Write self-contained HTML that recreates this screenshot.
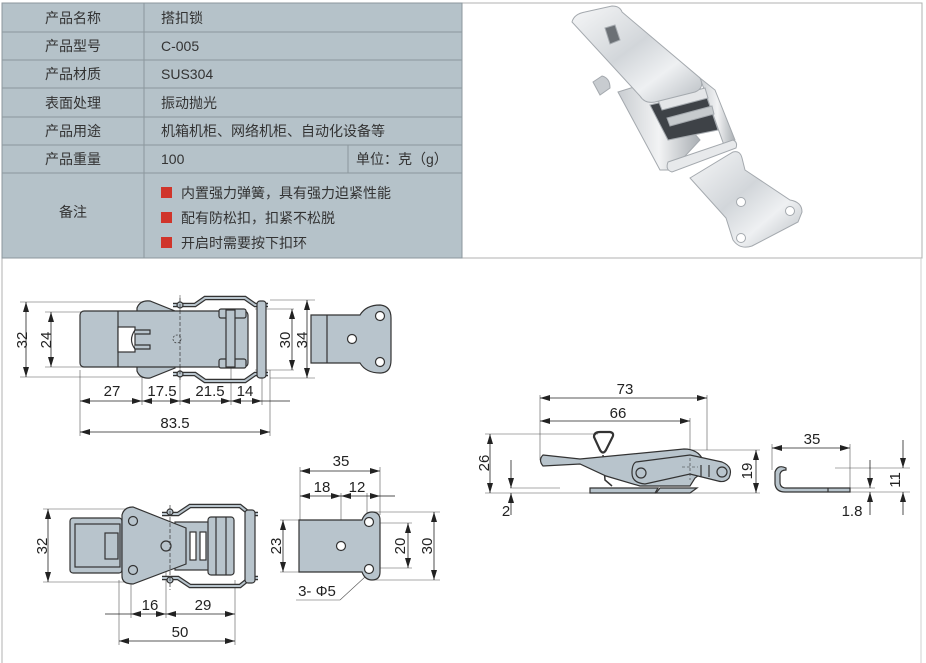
<!DOCTYPE html>
<html><head><meta charset="utf-8"><style>
html,body{margin:0;padding:0;background:#fff;width:926px;height:663px;overflow:hidden}
svg{display:block}
.t{font-family:"Liberation Sans","Noto Sans CJK SC",sans-serif;font-size:14px;fill:#333}
.d{font-family:"Liberation Sans",sans-serif;font-size:15px;fill:#222}
</style></head><body>
<svg width="926" height="663" viewBox="0 0 926 663" xmlns="http://www.w3.org/2000/svg">
<defs>
<marker id="a" viewBox="0 0 10 6" refX="10" refY="3" markerWidth="10" markerHeight="6" orient="auto-start-reverse" markerUnits="userSpaceOnUse"><path d="M0,0 L10,3 L0,6z" fill="#222"/></marker>
<linearGradient id="m" x1="0" y1="0" x2="1" y2="1"><stop offset="0" stop-color="#f6f7f8"/><stop offset=".45" stop-color="#d2d6da"/><stop offset=".7" stop-color="#eef0f2"/><stop offset="1" stop-color="#b8bdc2"/></linearGradient>
<linearGradient id="m2" x1="0" y1="0" x2="1" y2="0"><stop offset="0" stop-color="#c9cdd1"/><stop offset=".5" stop-color="#f2f3f4"/><stop offset="1" stop-color="#a9aeb3"/></linearGradient>
</defs>
<!-- frame -->
<rect x="2" y="3" width="920" height="255" fill="none" stroke="#b0b0b0"/>
<line x1="2" y1="258" x2="2" y2="663" stroke="#b0b0b0"/>
<line x1="921" y1="258" x2="921" y2="663" stroke="#d0d0d0"/>
<!-- table -->
<rect x="2" y="3" width="460" height="255" fill="#b5c2c9" stroke="#8c979d"/>
<g stroke="#8c979d" stroke-width="1">
<line x1="2" y1="32" x2="462" y2="32"/><line x1="2" y1="60" x2="462" y2="60"/>
<line x1="2" y1="88" x2="462" y2="88"/><line x1="2" y1="117" x2="462" y2="117"/>
<line x1="2" y1="145" x2="462" y2="145"/><line x1="2" y1="173" x2="462" y2="173"/>
<line x1="144" y1="3" x2="144" y2="258"/><line x1="348" y1="145" x2="348" y2="173"/>
</g>
<g class="t" text-anchor="middle">
<text x="73" y="23">产品名称</text><text x="73" y="51">产品型号</text><text x="73" y="79">产品材质</text>
<text x="73" y="108">表面处理</text><text x="73" y="136">产品用途</text><text x="73" y="164">产品重量</text>
<text x="73" y="217">备注</text>
</g>
<g class="t">
<text x="161" y="23">搭扣锁</text><text x="161" y="51">C-005</text><text x="161" y="79">SUS304</text>
<text x="161" y="108">振动抛光</text><text x="161" y="136">机箱机柜、网络机柜、自动化设备等</text>
<text x="161" y="164">100</text><text x="356" y="164">单位：克（g）</text>
<text x="181" y="198">内置强力弹簧，具有强力迫紧性能</text>
<text x="181" y="223">配有防松扣，扣紧不松脱</text>
<text x="181" y="248">开启时需要按下扣环</text>
</g>
<rect x="161" y="187" width="11" height="11" fill="#d0352b"/>
<rect x="161" y="212" width="11" height="11" fill="#d0352b"/>
<rect x="161" y="237" width="11" height="11" fill="#d0352b"/>
<!-- photo -->
<g stroke="#a4a9ae" stroke-width="1">
<path d="M593,82 L602,76 Q610,78 610,88 L600,95 Z" fill="#c8ccd0"/>
<path d="M618,92 L650,82 L700,140 L672,170 L660,170 Z" fill="url(#m2)"/>
<path d="M700,78 L715,90 L735,140 L725,148 Z" fill="url(#m2)"/>
<path d="M650,105 L705,92 L718,130 L668,140 Z" fill="#3e4247"/>
<path d="M658,100 L705,88 L708,98 L662,110 Z" fill="#e4e6e8"/>
<path d="M667,118 L712,106 L714,114 L670,126 Z" fill="#c6cacd"/>
<path d="M572,22 Q574,14 585,12 L612,6 Q620,6 622,12 L700,78 Q705,88 695,92 L655,102 Q645,104 640,96 Z" fill="url(#m)"/>
<path d="M605,28 L615,25 L620,40 L610,44 Z" fill="#6b7075"/>
<path d="M668,162 L733,140 Q738,142 736,148 L672,172 Q665,170 668,162 Z" fill="#e7e9eb"/>
<path d="M690,178 L733,152 Q740,150 742,158 L745,170 L790,200 Q802,202 802,212 L798,222 L752,246 Q740,250 733,240 L726,218 Z" fill="url(#m)"/>
<circle cx="741" cy="202" r="4.5" fill="#fff"/><circle cx="790" cy="211" r="4.5" fill="#fff"/><circle cx="741" cy="238" r="4.5" fill="#fff"/>
</g>
<!-- ============ top-left plan view ============ -->
<g stroke="#555" stroke-width="0.6" fill="none">
<line x1="20" y1="302" x2="150" y2="302"/><line x1="20" y1="377" x2="150" y2="377"/>
<line x1="45" y1="312" x2="85" y2="312"/><line x1="45" y1="367" x2="85" y2="367"/>
<line x1="80" y1="370" x2="80" y2="436"/><line x1="142" y1="370" x2="142" y2="405"/>
<line x1="180" y1="295" x2="180" y2="405"/><line x1="231" y1="360" x2="231" y2="405"/>
<line x1="262" y1="360" x2="262" y2="405"/><line x1="270" y1="370" x2="270" y2="436"/>
<line x1="255" y1="309" x2="294" y2="309"/><line x1="255" y1="370" x2="294" y2="370"/>
<line x1="270" y1="300" x2="315" y2="300"/><line x1="270" y1="378" x2="315" y2="378"/>
</g>
<g stroke="#222" stroke-width="0.8" marker-start="url(#a)" marker-end="url(#a)">
<line x1="26" y1="302" x2="26" y2="377"/><line x1="51" y1="312" x2="51" y2="367"/>
<line x1="292" y1="309" x2="292" y2="370"/><line x1="307" y1="300" x2="307" y2="378"/>
<line x1="80" y1="401" x2="142" y2="401"/><line x1="142" y1="401" x2="180" y2="401"/>
<line x1="180" y1="401" x2="231" y2="401"/><line x1="231" y1="401" x2="262" y2="401"/>
<line x1="80" y1="432" x2="270" y2="432"/>
</g>
<line x1="262" y1="401" x2="290" y2="401" stroke="#222" stroke-width="0.8"/>
<g class="d" text-anchor="middle">
<text transform="translate(22,340) rotate(-90)" y="5">32</text>
<text transform="translate(46,340) rotate(-90)" y="5">24</text>
<text transform="translate(285,340) rotate(-90)" y="5">30</text>
<text transform="translate(302,340) rotate(-90)" y="5">34</text>
<text x="112" y="396">27</text><text x="162" y="396">17.5</text><text x="210" y="396">21.5</text><text x="245" y="396">14</text>
<text x="175" y="428">83.5</text>
</g>
<g stroke="#333" stroke-width="1.2" fill="#b8c4cc">
<path d="M137,308 Q140,300 150,301 L175,311 L175,368 L150,378 Q140,379 137,371 Z"/>
<g fill="none"><path d="M173,305 L195,305 L205,298 L245,298 L255,305 L268,305 M173,374 L195,374 L205,381 L245,381 L255,374 L268,374" stroke="#333" stroke-width="4.5"/>
<path d="M173,305 L195,305 L205,298 L245,298 L255,305 L268,305 M173,374 L195,374 L205,381 L245,381 L255,374 L268,374" stroke="#b8c4cc" stroke-width="2"/></g>
<rect x="80" y="311" width="168" height="56" rx="4"/>
<line x1="118" y1="311" x2="118" y2="367"/>
<rect x="118" y="327" width="17" height="25" fill="#fff"/>
<path d="M135,330 h15 v4 h-15 M135,345 h15 v4 h-15" />
<path d="M135,330 Q128,340 135,349" fill="none"/>
<rect x="219" y="309" width="27" height="9" rx="2"/><rect x="219" y="359" width="27" height="9" rx="2"/>
<rect x="226" y="310" width="9" height="57"/>
<rect x="257" y="301" width="9" height="77" rx="3"/>
<circle cx="180" cy="305" r="3"/><circle cx="180" cy="374" r="3"/>
<path d="M311,315 L360,315 Q366,305 380,305 Q391,306 391,318 L391,360 Q391,373 380,373 Q366,373 360,363 L311,363 Z"/>
<line x1="327" y1="315" x2="327" y2="363"/>
<circle cx="380" cy="316" r="4.5" fill="#fff"/><circle cx="352" cy="339" r="4.5" fill="#fff"/><circle cx="380" cy="362" r="4.5" fill="#fff"/>
</g>
<line x1="180" y1="298" x2="180" y2="382" stroke="#333" stroke-dasharray="4,2" stroke-width="0.7"/>
<circle cx="177" cy="339" r="4" fill="none" stroke="#333" stroke-dasharray="2,1.5" stroke-width="0.7"/>
<!-- ============ bottom-left ============ -->
<g stroke="#555" stroke-width="0.6" fill="none">
<line x1="43" y1="509" x2="135" y2="509"/><line x1="43" y1="582" x2="135" y2="582"/>
<line x1="133" y1="521" x2="152" y2="521"/><line x1="133" y1="570" x2="152" y2="570"/>
<line x1="119" y1="580" x2="119" y2="645"/><line x1="131" y1="580" x2="131" y2="618"/>
<line x1="166" y1="560" x2="166" y2="618"/><line x1="235" y1="580" x2="235" y2="645"/>
<line x1="300" y1="467" x2="300" y2="520"/><line x1="380" y1="467" x2="380" y2="515"/>
<line x1="341" y1="493" x2="341" y2="545"/><line x1="367" y1="493" x2="367" y2="515"/>
<line x1="280" y1="520" x2="300" y2="520"/><line x1="280" y1="572" x2="300" y2="572"/>
<line x1="370" y1="512" x2="440" y2="512"/><line x1="370" y1="580" x2="440" y2="580"/>
<line x1="370" y1="523" x2="412" y2="523"/><line x1="370" y1="568" x2="412" y2="568"/>
<line x1="296" y1="600" x2="340" y2="600"/><line x1="340" y1="600" x2="378" y2="565"/>
</g>
<g stroke="#222" stroke-width="0.8" marker-start="url(#a)" marker-end="url(#a)">
<line x1="48" y1="509" x2="48" y2="582"/><line x1="147" y1="521" x2="147" y2="570"/>
<line x1="131" y1="614" x2="166" y2="614"/><line x1="166" y1="614" x2="235" y2="614"/>
<line x1="119" y1="641" x2="235" y2="641"/>
<line x1="300" y1="471" x2="380" y2="471"/>
<line x1="300" y1="496" x2="341" y2="496"/><line x1="341" y1="496" x2="380" y2="496"/>
<line x1="283" y1="520" x2="283" y2="572"/><line x1="408" y1="523" x2="408" y2="568"/>
<line x1="434" y1="512" x2="434" y2="580"/>
</g>
<line x1="105" y1="614" x2="131" y2="614" stroke="#222" stroke-width="0.8"/>
<line x1="380" y1="496" x2="395" y2="496" stroke="#222" stroke-width="0.8"/>
<g class="d" text-anchor="middle">
<text transform="translate(42,546) rotate(-90)" y="5">32</text>
<text transform="translate(139,546) rotate(90)" y="5">22</text>
<text x="150" y="610">16</text><text x="203" y="610">29</text><text x="180" y="637">50</text>
<text x="341" y="466">35</text><text x="322" y="492">18</text><text x="357" y="492">12</text>
<text transform="translate(276,546) rotate(-90)" y="5">23</text>
<text transform="translate(400,546) rotate(-90)" y="5">20</text>
<text transform="translate(427,546) rotate(-90)" y="5">30</text>
<text x="317" y="596">3- Φ5</text>
</g>
<g stroke="#333" stroke-width="1.2" fill="#b8c4cc">
<rect x="70" y="518" width="52" height="55" rx="3"/><rect x="75" y="524" width="45" height="43" fill="none"/>
<rect x="105" y="533" width="13" height="26"/>
<g fill="none"><path d="M162,514 L178,514 L190,506 L240,506 L250,514 L258,514 M162,578 L178,578 L190,586 L240,586 L250,578 L258,578" stroke="#333" stroke-width="4.5"/>
<path d="M162,514 L178,514 L190,506 L240,506 L250,514 L258,514 M162,578 L178,578 L190,586 L240,586 L250,578 L258,578" stroke="#b8c4cc" stroke-width="2"/></g>
<rect x="175" y="522" width="58" height="48"/>
<rect x="208" y="517" width="26" height="58" rx="3"/>
<line x1="216" y1="517" x2="216" y2="575"/><line x1="226" y1="517" x2="226" y2="575"/>
<rect x="245" y="510" width="10" height="73" rx="3"/>
<path d="M122,515 Q124,507 133,507 L186,528 L186,564 L133,584 Q122,584 122,576 Z"/>
<rect x="190" y="532" width="6" height="28" fill="#fff"/><rect x="200" y="532" width="6" height="28" fill="#fff"/>
<circle cx="133" cy="521" r="4.5"/><circle cx="133" cy="570" r="4.5"/><circle cx="166" cy="546" r="5"/>
<circle cx="170" cy="512" r="3"/><circle cx="170" cy="580" r="3"/>
<path d="M299,520 L362,520 Q365,512 372,512 Q380,512 380,520 L380,572 Q380,580 372,580 Q365,580 362,572 L299,572 Z"/>
<circle cx="369" cy="522" r="4.5" fill="#fff"/><circle cx="341" cy="546" r="4.5" fill="#fff"/><circle cx="369" cy="569" r="4.5" fill="#fff"/>
</g>
<line x1="170" y1="505" x2="170" y2="590" stroke="#333" stroke-dasharray="4,2" stroke-width="0.7"/>
<!-- ============ right side view ============ -->
<g stroke="#555" stroke-width="0.6" fill="none">
<line x1="540" y1="395" x2="540" y2="460"/><line x1="707" y1="395" x2="707" y2="450"/>
<line x1="690" y1="418" x2="690" y2="460"/>
<line x1="485" y1="434" x2="598" y2="434"/><line x1="485" y1="493" x2="760" y2="493"/>
<line x1="510" y1="488" x2="560" y2="488"/><line x1="690" y1="450" x2="760" y2="450"/>
<line x1="772" y1="444" x2="772" y2="470"/><line x1="850" y1="444" x2="850" y2="492"/>
<line x1="835" y1="468" x2="910" y2="468"/><line x1="840" y1="492" x2="910" y2="492"/>
<line x1="840" y1="488" x2="875" y2="488"/>
</g>
<g stroke="#222" stroke-width="0.8" marker-start="url(#a)" marker-end="url(#a)">
<line x1="540" y1="398" x2="707" y2="398"/><line x1="540" y1="421" x2="690" y2="421"/>
<line x1="490" y1="434" x2="490" y2="493"/><line x1="756" y1="450" x2="756" y2="493"/>
<line x1="772" y1="448" x2="850" y2="448"/>
</g>
<g stroke="#222" stroke-width="0.8">
<line x1="511" y1="460" x2="511" y2="488" marker-end="url(#a)"/><line x1="511" y1="515" x2="511" y2="493" marker-end="url(#a)"/>
<line x1="870" y1="460" x2="870" y2="488" marker-end="url(#a)"/><line x1="870" y1="515" x2="870" y2="492" marker-end="url(#a)"/>
<line x1="903" y1="440" x2="903" y2="468" marker-end="url(#a)"/><line x1="903" y1="515" x2="903" y2="492" marker-end="url(#a)"/>
</g>
<g class="d" text-anchor="middle">
<text x="625" y="394">73</text><text x="618" y="418">66</text><text x="812" y="444">35</text>
<text transform="translate(484,463) rotate(-90)" y="5">26</text>
<text transform="translate(747,471) rotate(-90)" y="5">19</text>
<text transform="translate(895,480) rotate(-90)" y="5">11</text>
<text x="506" y="516">2</text><text x="852" y="516">1.8</text>
</g>
<g stroke="#333" stroke-width="1.2" fill="#b8c4cc">
<path d="M590,488 L658,488 L655,493 L590,493 Z"/>
<path d="M660,488 L697,488 L690,493 L656,493 Z"/>
<path d="M594,437 Q594,432 600,432 L610,432 Q615,433 612,438 L606,450 Q603,455 600,450 Z" fill="none" stroke-width="2.2"/>
<path d="M603,455 L605,480 L612,486" fill="none" stroke-width="1.5"/>
<path d="M543,455 L580,459 L684,449 Q698,449 703,460 L706,470 L695,478 L690,486 L640,486 L606,476 L580,464 L543,466 Q538,460 543,455 Z"/>
<path d="M636,462 L690,455 L722,462 Q734,467 729,478 Q725,483 718,481 L690,474 L645,484 Q632,483 632,473 Q632,464 636,462 Z"/>
<circle cx="641" cy="473" r="5"/><circle cx="722" cy="472" r="5"/>
<line x1="701" y1="465" x2="701" y2="477"/><line x1="709" y1="465" x2="709" y2="477"/>
<path d="M786,468 Q778,464 775,472 L775,484 Q776,492 785,492 L850,492 L850,488 L786,488 Q780,488 780,482 L780,474 Q781,470 786,470 Z"/>
<line x1="828" y1="488" x2="828" y2="492"/>
</g>
<line x1="690" y1="458" x2="690" y2="480" stroke="#333" stroke-dasharray="3,2" stroke-width="0.6"/>
<line x1="682" y1="467" x2="698" y2="467" stroke="#333" stroke-dasharray="3,2" stroke-width="0.6"/>
</svg>
</body></html>
